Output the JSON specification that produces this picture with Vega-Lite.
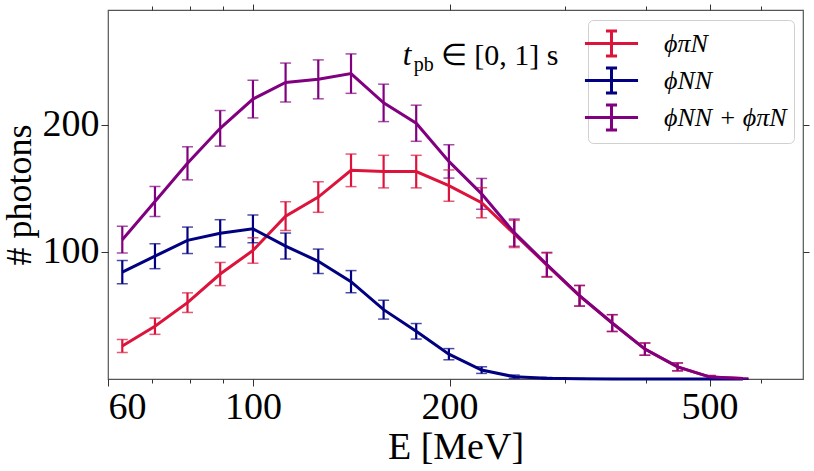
{
  "$schema": "https://vega.github.io/schema/vega-lite/v6.json",
  "width": 695,
  "height": 369,
  "autosize": {"type": "none"},
  "padding": {"left": 108, "top": 10, "right": 11, "bottom": 92},
  "background": "white",
  "config": {
    "view": {"stroke": "#555555", "strokeWidth": 1.2},
    "font": "Liberation Serif",
    "axis": {
      "domain": false,
      "grid": false,
      "tickColor": "#333333",
      "tickWidth": 1,
      "labelFont": "Liberation Serif",
      "labelFontSize": 38,
      "labelColor": "black",
      "titleFont": "Liberation Serif",
      "titleFontSize": 38,
      "titleFontWeight": "normal",
      "titleColor": "black"
    }
  },
  "datasets": {
    "pts": [
      {"E": 63.1, "s": "ϕπN", "v": 26, "lo": 20.9, "hi": 31.1},
      {"E": 70.8, "s": "ϕπN", "v": 41.5, "lo": 35.1, "hi": 47.9},
      {"E": 79.4, "s": "ϕπN", "v": 60, "lo": 52.3, "hi": 67.7},
      {"E": 89.1, "s": "ϕπN", "v": 82.5, "lo": 73.4, "hi": 91.6},
      {"E": 100, "s": "ϕπN", "v": 101, "lo": 91, "hi": 111},
      {"E": 112.2, "s": "ϕπN", "v": 128, "lo": 116.7, "hi": 139.3},
      {"E": 125.9, "s": "ϕπN", "v": 143, "lo": 131, "hi": 155},
      {"E": 141.3, "s": "ϕπN", "v": 164, "lo": 151.2, "hi": 176.8},
      {"E": 158.5, "s": "ϕπN", "v": 163, "lo": 150.2, "hi": 175.8},
      {"E": 177.8, "s": "ϕπN", "v": 163, "lo": 150.2, "hi": 175.8},
      {"E": 199.5, "s": "ϕπN", "v": 152, "lo": 139.7, "hi": 164.3},
      {"E": 223.9, "s": "ϕπN", "v": 138.5, "lo": 126.7, "hi": 150.3},
      {"E": 251.2, "s": "ϕπN", "v": 114, "lo": 103.3, "hi": 124.7},
      {"E": 281.8, "s": "ϕπN", "v": 89.5, "lo": 80, "hi": 99},
      {"E": 316.2, "s": "ϕπN", "v": 65.3, "lo": 57.2, "hi": 73.4},
      {"E": 354.8, "s": "ϕπN", "v": 43.9, "lo": 37.3, "hi": 50.5},
      {"E": 398.1, "s": "ϕπN", "v": 23.5, "lo": 18.7, "hi": 28.3},
      {"E": 446.7, "s": "ϕπN", "v": 9.5, "lo": 6.4, "hi": 12.6},
      {"E": 501.2, "s": "ϕπN", "v": 1.5, "lo": 0.3, "hi": 2.7},
      {"E": 562.3, "s": "ϕπN", "v": 0.3, "lo": 0, "hi": 0.8},
      {"E": 63.1, "s": "ϕNN", "v": 84, "lo": 74.8, "hi": 93.2},
      {"E": 70.8, "s": "ϕNN", "v": 96.5, "lo": 86.7, "hi": 106.3},
      {"E": 79.4, "s": "ϕNN", "v": 109, "lo": 98.6, "hi": 119.4},
      {"E": 89.1, "s": "ϕNN", "v": 114.5, "lo": 103.8, "hi": 125.2},
      {"E": 100, "s": "ϕNN", "v": 118, "lo": 107.1, "hi": 128.9},
      {"E": 112.2, "s": "ϕNN", "v": 104.5, "lo": 94.3, "hi": 114.7},
      {"E": 125.9, "s": "ϕNN", "v": 92.5, "lo": 82.9, "hi": 102.1},
      {"E": 141.3, "s": "ϕNN", "v": 76.5, "lo": 67.8, "hi": 85.2},
      {"E": 158.5, "s": "ϕNN", "v": 54.5, "lo": 47.1, "hi": 61.9},
      {"E": 177.8, "s": "ϕNN", "v": 37.5, "lo": 31.4, "hi": 43.6},
      {"E": 199.5, "s": "ϕNN", "v": 19.5, "lo": 15.1, "hi": 23.9},
      {"E": 223.9, "s": "ϕNN", "v": 7, "lo": 4.4, "hi": 9.6},
      {"E": 251.2, "s": "ϕNN", "v": 1.8, "lo": 0.5, "hi": 3.1},
      {"E": 281.8, "s": "ϕNN", "v": 0.5, "lo": 0, "hi": 1.2},
      {"E": 316.2, "s": "ϕNN", "v": 0.1, "lo": 0, "hi": 0.4},
      {"E": 354.8, "s": "ϕNN", "v": 0.05, "lo": 0, "hi": 0.25},
      {"E": 398.1, "s": "ϕNN", "v": 0, "lo": 0, "hi": 0},
      {"E": 446.7, "s": "ϕNN", "v": 0, "lo": 0, "hi": 0},
      {"E": 501.2, "s": "ϕNN", "v": 0, "lo": 0, "hi": 0},
      {"E": 562.3, "s": "ϕNN", "v": 0, "lo": 0, "hi": 0},
      {"E": 63.1, "s": "ϕNN + ϕπN", "v": 109.5, "lo": 99, "hi": 120},
      {"E": 70.8, "s": "ϕNN + ϕπN", "v": 139.5, "lo": 127.7, "hi": 151.3},
      {"E": 79.4, "s": "ϕNN + ϕπN", "v": 169.5, "lo": 156.5, "hi": 182.5},
      {"E": 89.1, "s": "ϕNN + ϕπN", "v": 197, "lo": 183, "hi": 211},
      {"E": 100, "s": "ϕNN + ϕπN", "v": 220, "lo": 205.2, "hi": 234.8},
      {"E": 112.2, "s": "ϕNN + ϕπN", "v": 233, "lo": 217.7, "hi": 248.3},
      {"E": 125.9, "s": "ϕNN + ϕπN", "v": 235.5, "lo": 220.2, "hi": 250.8},
      {"E": 141.3, "s": "ϕNN + ϕπN", "v": 240, "lo": 224.5, "hi": 255.5},
      {"E": 158.5, "s": "ϕNN + ϕπN", "v": 217, "lo": 202.3, "hi": 231.7},
      {"E": 177.8, "s": "ϕNN + ϕπN", "v": 201, "lo": 186.8, "hi": 215.2},
      {"E": 199.5, "s": "ϕNN + ϕπN", "v": 171, "lo": 157.9, "hi": 184.1},
      {"E": 223.9, "s": "ϕNN + ϕπN", "v": 145.5, "lo": 133.4, "hi": 157.6},
      {"E": 251.2, "s": "ϕNN + ϕπN", "v": 115, "lo": 104.3, "hi": 125.7},
      {"E": 281.8, "s": "ϕNN + ϕπN", "v": 90, "lo": 80.5, "hi": 99.5},
      {"E": 316.2, "s": "ϕNN + ϕπN", "v": 65.5, "lo": 57.4, "hi": 73.6},
      {"E": 354.8, "s": "ϕNN + ϕπN", "v": 44, "lo": 37.4, "hi": 50.6},
      {"E": 398.1, "s": "ϕNN + ϕπN", "v": 23.5, "lo": 18.7, "hi": 28.3},
      {"E": 446.7, "s": "ϕNN + ϕπN", "v": 9.5, "lo": 6.4, "hi": 12.6},
      {"E": 501.2, "s": "ϕNN + ϕπN", "v": 1.5, "lo": 0.3, "hi": 2.7},
      {"E": 562.3, "s": "ϕNN + ϕπN", "v": 0.3, "lo": 0, "hi": 0.8}
    ]
  },
  "data": {"name": "pts"},
  "resolve": {
    "scale": {"x": "shared", "y": "shared", "color": "shared"},
    "axis": {"x": "independent", "y": "independent"},
    "legend": {"color": "shared"}
  },
  "layer": [
    {
      "mark": {"type": "rule", "strokeWidth": 2.2},
      "encoding": {
        "x": {"field": "E", "type": "quantitative",
          "scale": {"type": "log", "domain": [60, 695], "nice": false},
          "axis": {"orient": "top", "values": [100, 200, 500], "tickSize": 6, "labels": false, "title": null}},
        "y": {"field": "lo", "type": "quantitative",
          "scale": {"domain": [0, 290], "nice": false, "zero": false},
          "axis": {"orient": "right", "values": [100, 200], "tickSize": 6, "labels": false, "title": null}},
        "y2": {"field": "hi"},
        "color": {"field": "s", "type": "nominal",
          "scale": {"domain": ["ϕπN", "ϕNN", "ϕNN + ϕπN"], "range": ["#DC143C", "#000080", "#800080"]},
          "legend": {
            "orient": "none", "legendX": 480, "legendY": 10, "title": null,
            "symbolType": "M-1.77,0L1.77,0M0,-0.83L0,0.83M-0.37,-0.83L0.37,-0.83M-0.37,0.83L0.37,0.83",
            "symbolSize": 900, "symbolStrokeWidth": 3, "symbolFillColor": "transparent", "symbolOpacity": 1,
            "labelFont": "Liberation Serif", "labelFontStyle": "italic", "labelFontSize": 26,
            "labelOffset": 36, "labelLimit": 300, "rowPadding": 0, "padding": 7,
            "strokeColor": "#d0d0d0", "fillColor": "white", "cornerRadius": 5,
            "encode": {"symbols": {"update": {"opacity": {"value": 1}, "strokeOpacity": {"value": 1}}}}
          }}
      }
    },
    {
      "mark": {"type": "tick", "orient": "horizontal", "size": 11, "thickness": 1.5, "fillOpacity": 0.7},
      "encoding": {
        "x": {"field": "E", "type": "quantitative",
          "axis": {"orient": "bottom", "values": [70, 80, 90, 300, 400, 600], "tickSize": 4, "labels": false, "title": null}},
        "y": {"field": "lo", "type": "quantitative", "axis": null},
        "color": {"field": "s", "type": "nominal"}
      }
    },
    {
      "mark": {"type": "tick", "orient": "horizontal", "size": 11, "thickness": 1.5, "fillOpacity": 0.7},
      "encoding": {
        "x": {"field": "E", "type": "quantitative",
          "axis": {"orient": "top", "values": [70, 80, 90, 300, 400, 600], "tickSize": 4, "labels": false, "title": null}},
        "y": {"field": "hi", "type": "quantitative", "axis": null},
        "color": {"field": "s", "type": "nominal"}
      }
    },
    {
      "mark": {"type": "line", "strokeWidth": 3},
      "encoding": {
        "x": {"field": "E", "type": "quantitative",
          "axis": {"orient": "bottom", "values": [60, 100, 200, 500], "tickSize": 7, "labelPadding": 2, "title": "E  [MeV]", "titlePadding": 2}},
        "y": {"field": "v", "type": "quantitative",
          "axis": {"orient": "left", "values": [100, 200], "tickSize": 7, "labelPadding": 2, "title": "# photons", "titleFontSize": 36, "titlePadding": 4}},
        "color": {"field": "s", "type": "nominal"}
      }
    },
    {
      "data": {"values": [{}]},
      "mark": {"type": "text", "text": "t", "font": "Liberation Serif", "fontStyle": "italic", "fontSize": 31, "align": "left", "baseline": "alphabetic"},
      "encoding": {
        "x": {"datum": 169.5, "type": "quantitative", "axis": null},
        "y": {"datum": 247, "type": "quantitative", "axis": null}
      }
    },
    {
      "data": {"values": [{}]},
      "mark": {"type": "text", "text": "pb", "font": "Liberation Serif", "fontSize": 20, "align": "left", "baseline": "alphabetic", "dx": 11, "dy": 6},
      "encoding": {
        "x": {"datum": 169.5, "type": "quantitative", "axis": null},
        "y": {"datum": 247, "type": "quantitative", "axis": null}
      }
    },
    {
      "data": {"values": [{}]},
      "mark": {"type": "text", "text": "∈ [0, 1] s", "font": "Liberation Serif", "fontSize": 30, "align": "left", "baseline": "alphabetic", "dx": 38},
      "encoding": {
        "x": {"datum": 169.5, "type": "quantitative", "axis": null},
        "y": {"datum": 247, "type": "quantitative", "axis": null}
      }
    }
  ]
}
